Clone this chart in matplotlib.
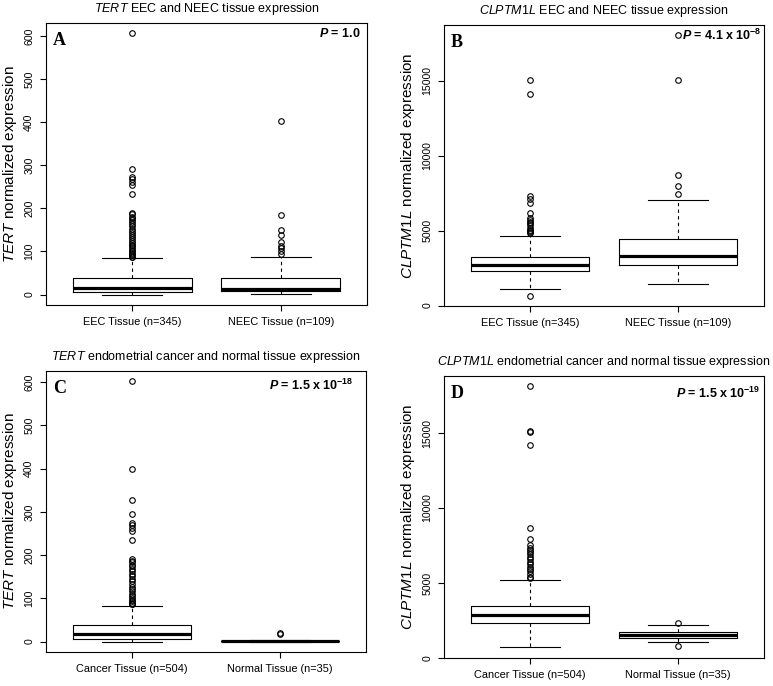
import numpy as np
import matplotlib.pyplot as plt

plt.rcParams['font.family'] = 'Liberation Sans'
plt.rcParams['mathtext.fontset'] = 'custom'
plt.rcParams['mathtext.rm'] = 'Liberation Sans'
plt.rcParams['mathtext.it'] = 'Liberation Sans:italic'
plt.rcParams['mathtext.bf'] = 'Liberation Sans:bold'
plt.rcParams['mathtext.bfit'] = 'Liberation Sans:italic:bold'

# box stats: lower whisker, Q1, median, Q3, upper whisker
tert_eec = [0, 6, 16, 38, 84]
tert_eec_out = [606, 292, 273, 268, 262, 255, 234, 190, 186, 181, 177, 172, 168, 163,
                158, 152, 147, 143, 138, 133, 128, 124, 120, 116, 112, 107, 103, 100,
                97, 94, 91, 88, 86]
tert_neec = [1, 8, 14, 39, 87]
tert_neec_out = [402, 185, 150, 138, 122, 112, 107, 101, 95]

clp_eec = [1128, 2323, 2677, 3230, 4646]
clp_eec_out = [15050, 14150, 7323, 7102, 6858, 6150, 5819, 5700, 5597, 5480, 5376,
               5199, 5044, 4950, 4889, 4823, 664]
clp_neec = [1460, 2699, 3341, 4447, 7080]
clp_neec_out = [18031, 15066, 8695, 7987, 7478]

tert_cancer = [0, 7, 17, 38, 83]
tert_cancer_out = [602, 399, 327, 295, 274, 269, 263, 255, 234, 191, 187, 183, 178, 174,
                   168, 163, 157, 151, 145, 139, 133, 127, 122, 116, 110, 105, 100, 96,
                   93, 90, 88, 86]
tert_normal = [0, 0.3, 0.8, 1.4, 3]
tert_normal_out = [20, 17]

clp_cancer = [705, 2335, 2841, 3458, 5198]
clp_cancer_out = [18111, 15156, 15089, 14200, 8678, 7952, 7511, 7357, 7203, 7070, 6916,
                  6740, 6586, 6410, 6256, 6079, 5925, 5771, 5595, 5419, 5308]
clp_normal = [1084, 1350, 1549, 1726, 2212]
clp_normal_out = [2367, 774]

labels_ab = ['EEC Tissue (n=345)', 'NEEC Tissue (n=109)']
labels_cd = ['Cancer Tissue (n=504)', 'Normal Tissue (n=35)']
yticks_tert = [0, 100, 200, 300, 400, 500, 600]
yticks_clp = [0, 5000, 10000, 15000]

fig = plt.figure(figsize=(7.73, 6.86), dpi=100)


def panel(rect, boxes, outs, labels, yticks, title, ylab, letter, ptext, ppos):
    ax = fig.add_axes(rect)
    stats = []
    for b, o in zip(boxes, outs):
        stats.append(dict(whislo=b[0], q1=b[1], med=b[2], q3=b[3], whishi=b[4], fliers=o))
    ax.bxp(stats, positions=[1, 2], widths=0.8, showfliers=True,
           boxprops=dict(color='black', lw=0.8),
           medianprops=dict(color='black', lw=2.3),
           whiskerprops=dict(color='black', lw=0.8, linestyle=(0, (3, 3))),
           capprops=dict(color='black', lw=0.8),
           flierprops=dict(marker='o', markerfacecolor='none', markeredgecolor='black',
                           markersize=4, markeredgewidth=0.8))
    allv = np.concatenate([np.array(boxes).ravel(), np.concatenate(outs)])
    lo, hi = allv.min(), allv.max()
    pad = 0.04 * (hi - lo)
    ax.set_ylim(lo - pad, hi + pad)
    ax.set_xlim(0.42, 2.58)
    ax.set_xticks([1, 2])
    ax.set_xticklabels(labels, fontsize=7.9)
    ax.set_yticks(yticks)
    ax.set_yticklabels([str(t) for t in yticks], fontsize=7.6, rotation=90, va='center')
    ax.tick_params(direction='out', length=4.5, width=0.8, pad=4)
    for s in ax.spines.values():
        s.set_linewidth(0.8)
    ax.set_title(title, fontsize=9, pad=8)
    ax.set_ylabel(ylab, fontsize=11)
    ax.yaxis.set_label_coords(-0.085, 0.5)
    ax.text(0.022, 0.968, letter, transform=ax.transAxes, fontfamily='Liberation Serif',
            fontweight='bold', fontsize=13, ha='left', va='top')
    ax.text(ppos[0], ppos[1], ptext, transform=ax.transAxes, fontweight='bold',
            fontsize=9, ha='right', va='center')
    return ax


panel([0.0595, 0.5554, 0.4153, 0.4111], [tert_eec, tert_neec], [tert_eec_out, tert_neec_out],
      labels_ab, yticks_tert, r'$\it{TERT}$ EEC and NEEC tissue expression',
      r'$\it{TERT}$ normalized expression', 'A', r'$\mathbfit{P}$ = 1.0', (0.981, 0.961))
panel([0.5744, 0.5539, 0.414, 0.4096], [clp_eec, clp_neec], [clp_eec_out, clp_neec_out],
      labels_ab, yticks_clp, r'$\it{CLPTM1L}$ EEC and NEEC tissue expression',
      r'$\it{CLPTM1L}$ normalized expression', 'B',
      r'$\mathbfit{P}$ = 4.1 x 10$^{\mathbf{-8}}$', (0.994, 0.962))
panel([0.0595, 0.0496, 0.414, 0.4096], [tert_cancer, tert_normal], [tert_cancer_out, tert_normal_out],
      labels_cd, yticks_tert, r'$\it{TERT}$ endometrial cancer and normal tissue expression',
      r'$\it{TERT}$ normalized expression', 'C',
      r'$\mathbfit{P}$ = 1.5 x 10$^{\mathbf{-18}}$', (0.96, 0.948))
panel([0.5744, 0.0408, 0.414, 0.4111], [clp_cancer, clp_normal], [clp_cancer_out, clp_normal_out],
      labels_cd, yticks_clp, r'$\it{CLPTM1L}$ endometrial cancer and normal tissue expression',
      r'$\it{CLPTM1L}$ normalized expression', 'D',
      r'$\mathbfit{P}$ = 1.5 x 10$^{\mathbf{-19}}$', (0.99, 0.94))

fig.savefig('out.png', dpi=100)
